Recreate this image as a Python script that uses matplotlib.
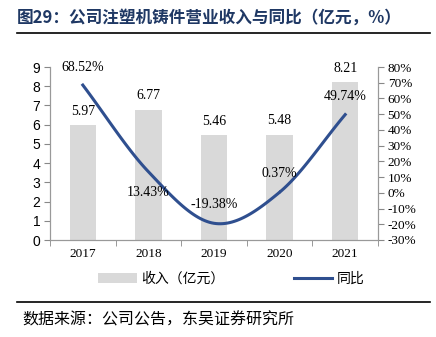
import matplotlib
matplotlib.use("Agg")
import matplotlib.pyplot as plt
import numpy as np
from matplotlib.patches import Patch
from matplotlib.lines import Line2D

years = ["2017", "2018", "2019", "2020", "2021"]
revenue = [5.97, 6.77, 5.46, 5.48, 8.21]
growth = [68.52, 13.43, -19.38, 0.37, 49.74]
left_ticks = list(range(0, 10))
right_ticks = list(range(-30, 90, 10))

CJK = ["Noto Sans CJK SC", "DejaVu Sans"]
SERIF = "Liberation Serif"
SANS = "Liberation Sans"

fig = plt.figure(figsize=(4.36, 3.37), dpi=100)
W, H = 436, 337
ax = fig.add_axes([50 / W, 1 - 240 / H, 328 / W, 173 / H])
ax2 = ax.twinx()

x = np.arange(len(years))
ax.bar(x, revenue, width=0.4, color="#d9d9d9", zorder=1)
ax.set_xlim(-0.5, len(years) - 0.5)
ax.set_ylim(0, 9)
ax.set_yticks(left_ticks)
ax.set_yticklabels([str(t) for t in left_ticks], fontfamily=SANS, fontsize=10)
ax.set_xticks(x)
ax.set_xticklabels(years, fontfamily=SERIF, fontsize=9.5)
ax.set_xticks(np.arange(len(years) + 1) - 0.5, minor=True)
ax.tick_params(axis="x", which="major", length=0, pad=6)
ax.tick_params(axis="x", which="minor", length=4, color="#888888")
ax.tick_params(axis="y", length=4, color="#888888", pad=3)

# smooth line (Catmull-Rom)
def catmull(xs, ys, n=30):
    px = np.concatenate([[2 * xs[0] - xs[1]], xs, [2 * xs[-1] - xs[-2]]])
    py = np.concatenate([[2 * ys[0] - ys[1]], ys, [2 * ys[-1] - ys[-2]]])
    ox, oy = [], []
    for i in range(1, len(px) - 2):
        t = np.linspace(0, 1, n)
        for arr, out in ((px, ox), (py, oy)):
            p0, p1, p2, p3 = arr[i - 1], arr[i], arr[i + 1], arr[i + 2]
            out.extend(0.5 * ((2 * p1) + (-p0 + p2) * t + (2 * p0 - 5 * p1 + 4 * p2 - p3) * t ** 2
                              + (-p0 + 3 * p1 - 3 * p2 + p3) * t ** 3))
    return np.array(ox), np.array(oy)

sx, sy = catmull(x.astype(float), np.array(growth, dtype=float))
ax2.plot(sx, sy, color="#2f4f8f", lw=2.2, zorder=3)
ax2.set_ylim(-30, 80)
ax2.set_yticks(right_ticks)
ax2.set_yticklabels([f"{t}%" for t in right_ticks], fontfamily=SERIF, fontsize=9.5)
ax2.tick_params(axis="y", length=4, color="#888888", pad=3)

for a in (ax, ax2):
    a.spines["top"].set_visible(False)
    for s in ("left", "right", "bottom"):
        a.spines[s].set_color("#999999")
        a.spines[s].set_linewidth(0.8)

# bar labels
for i, v in enumerate(revenue):
    ax.annotate(f"{v:.2f}", (x[i], v), xytext=(0, 14), textcoords="offset pixels",
                ha="center", va="center", fontfamily=SERIF, fontsize=10)

# growth labels (pixel offsets from the point)
goff = [18, -21, 19, 19, 18]
for i, v in enumerate(growth):
    ax2.annotate(f"{v:.2f}%", (x[i], v), xytext=(0, goff[i]), textcoords="offset pixels",
                 ha="center", va="center", fontfamily=SERIF, fontsize=10, zorder=5)

# legend
handles = [Patch(facecolor="#d9d9d9", edgecolor="none"),
           Line2D([0], [0], color="#2f4f8f", lw=2.2)]
fig.legend(handles, ["收入（亿元）", "同比"], loc="center", bbox_to_anchor=(0.53, 1 - 279 / H),
           ncol=2, frameon=False, prop={"family": CJK, "size": 10}, columnspacing=5.0,
           handlelength=2.8, handletextpad=0.3, handleheight=0.8)

# title and lines
fig.text(17 / W, 1 - 18 / H, "图29：公司注塑机铸件营业收入与同比（亿元，%）", fontfamily=CJK,
         fontsize=12, fontweight="bold", color="#1f3864", va="center", ha="left")
fig.add_artist(Line2D([17 / W, 430 / W], [1 - 33 / H, 1 - 33 / H], color="black", lw=1.2))
fig.add_artist(Line2D([17 / W, 430 / W], [1 - 302 / H, 1 - 302 / H], color="black", lw=1.2))
fig.text(22 / W, 1 - 320 / H, "数据来源：公司公告，东吴证券研究所", fontfamily=CJK,
         fontsize=11.5, va="center", ha="left")

fig.savefig("out.png", dpi=100)
